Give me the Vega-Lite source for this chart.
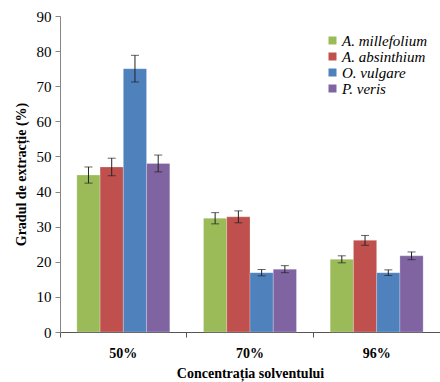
{
  "$schema": "https://vega.github.io/schema/vega-lite/v6.json",
  "autosize": "none",
  "width": 380,
  "height": 316,
  "padding": {"left": 60, "top": 16, "right": 0, "bottom": 50},
  "background": "white",
  "config": {
    "view": {"stroke": null},
    "font": "Liberation Serif",
    "axis": {
      "labelFont": "Liberation Serif",
      "titleFont": "Liberation Serif",
      "labelColor": "black",
      "titleColor": "black",
      "domainColor": "#868686",
      "tickColor": "#868686",
      "grid": false
    },
    "axisY": {
      "title": "Gradul de extracție (%)",
      "titleFontSize": 14,
      "titleFontWeight": "bold",
      "titlePadding": 8,
      "labelFontSize": 15,
      "labelPadding": 4,
      "labelOverlap": false,
      "tickSize": 5,
      "values": [0, 10, 20, 30, 40, 50, 60, 70, 80, 90]
    },
    "legend": {
      "labelFont": "Liberation Serif"
    }
  },
  "data": {
    "values": [
      {"conc": "50%", "species": "A. millefolium", "value": 44.7, "lo": 42.4, "hi": 47.0},
      {"conc": "50%", "species": "A. absinthium", "value": 47.0, "lo": 44.5, "hi": 49.5},
      {"conc": "50%", "species": "O. vulgare", "value": 75.0, "lo": 71.2, "hi": 78.8},
      {"conc": "50%", "species": "P. veris", "value": 48.0, "lo": 45.6, "hi": 50.4},
      {"conc": "70%", "species": "A. millefolium", "value": 32.4, "lo": 30.8, "hi": 34.0},
      {"conc": "70%", "species": "A. absinthium", "value": 32.8, "lo": 31.1, "hi": 34.5},
      {"conc": "70%", "species": "O. vulgare", "value": 16.9, "lo": 16.0, "hi": 17.8},
      {"conc": "70%", "species": "P. veris", "value": 17.9, "lo": 16.9, "hi": 18.9},
      {"conc": "96%", "species": "A. millefolium", "value": 20.7, "lo": 19.7, "hi": 21.7},
      {"conc": "96%", "species": "A. absinthium", "value": 26.1, "lo": 24.7, "hi": 27.5},
      {"conc": "96%", "species": "O. vulgare", "value": 16.9, "lo": 16.1, "hi": 17.7},
      {"conc": "96%", "species": "P. veris", "value": 21.7, "lo": 20.6, "hi": 22.8}
    ]
  },
  "encoding": {
    "x": {
      "field": "conc",
      "type": "nominal",
      "scale": {"paddingInner": 0, "paddingOuter": 0},
      "axis": {
        "title": "Concentrația solventului",
        "titleFontSize": 14,
        "titleFontWeight": "bold",
        "titlePadding": 6,
        "labelFontSize": 14,
        "labelFontWeight": "bold",
        "labelAngle": 0,
        "labelPadding": 9,
        "bandPosition": 0,
        "tickSize": 5,
        "domainColor": "#555555",
        "tickColor": "#555555"
      }
    },
    "xOffset": {
      "field": "species",
      "type": "nominal",
      "sort": ["A. millefolium", "A. absinthium", "O. vulgare", "P. veris"],
      "scale": {"paddingInner": 0, "paddingOuter": 0.725}
    }
  },
  "layer": [
    {
      "mark": {"type": "bar", "stroke": "white", "strokeOpacity": 0.4, "strokeWidth": 0.6},
      "encoding": {
        "y": {
          "field": "value",
          "type": "quantitative",
          "title": "Gradul de extracție (%)",
          "scale": {"domain": [0, 90], "nice": false}
        },
        "color": {
          "field": "species",
          "type": "nominal",
          "sort": ["A. millefolium", "A. absinthium", "O. vulgare", "P. veris"],
          "scale": {
            "domain": ["A. millefolium", "A. absinthium", "O. vulgare", "P. veris"],
            "range": ["#9BBB59", "#C0504D", "#4F81BD", "#8064A2"]
          },
          "legend": {
            "title": null,
            "orient": "none",
            "legendX": 265,
            "legendY": 17,
            "symbolType": "square",
            "symbolSize": 64,
            "symbolStrokeWidth": 0,
            "labelFont": "Liberation Serif",
            "labelFontSize": 15,
            "labelFontStyle": "italic",
            "labelColor": "black",
            "rowPadding": 0,
            "labelOffset": 2
          }
        }
      }
    },
    {
      "mark": {"type": "rule", "color": "#222222", "strokeWidth": 1},
      "encoding": {
        "y": {"field": "lo", "type": "quantitative", "title": "Gradul de extracție (%)"},
        "y2": {"field": "hi"}
      }
    },
    {
      "mark": {"type": "tick", "color": "#222222", "size": 8, "thickness": 1},
      "encoding": {"y": {"field": "lo", "type": "quantitative", "title": "Gradul de extracție (%)"}}
    },
    {
      "mark": {"type": "tick", "color": "#222222", "size": 8, "thickness": 1},
      "encoding": {"y": {"field": "hi", "type": "quantitative", "title": "Gradul de extracție (%)"}}
    }
  ]
}
